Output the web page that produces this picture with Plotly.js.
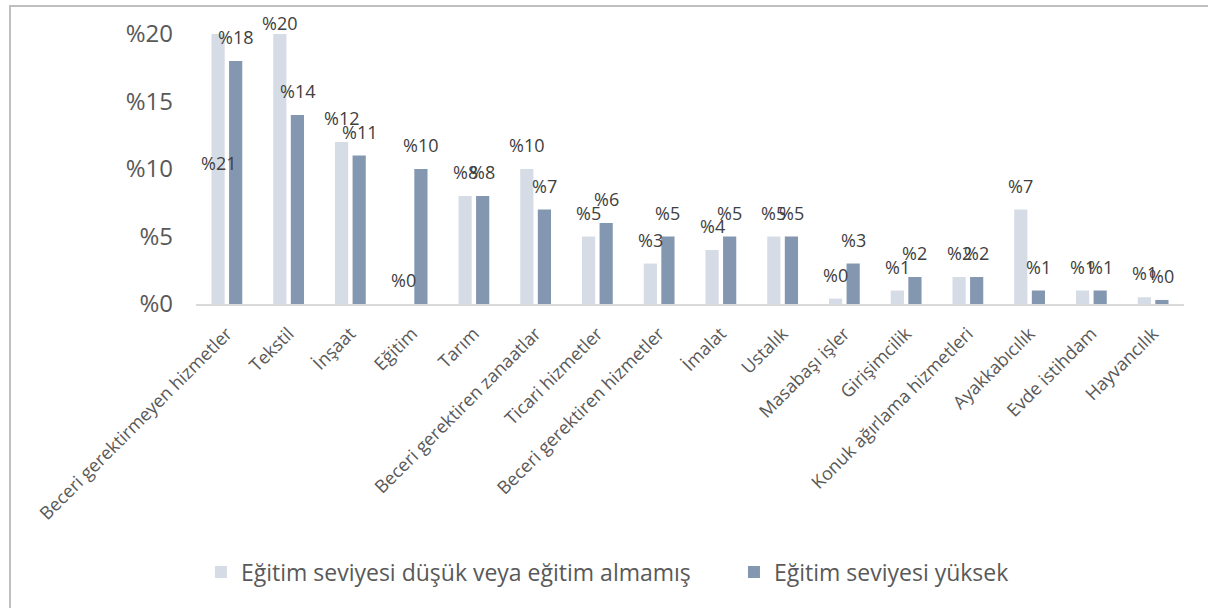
<!DOCTYPE html>
<html>
<head>
<meta charset="utf-8">
<script src="https://cdn.plot.ly/plotly-3.0.1.min.js"></script>
<style>
  html, body { margin: 0; padding: 0; background: #ffffff; overflow: hidden; }
  #wrap { position: relative; width: 1208px; height: 608px; overflow: hidden; }
  #frame { position: absolute; left: 9px; top: 5px; width: 1400px; height: 800px;
           border: 2px solid #bfbfbf; box-sizing: border-box; pointer-events: none; }
  #chart { position: absolute; left: 0; top: 0; width: 1208px; height: 608px; }
</style>
</head>
<body>
<div id="wrap">
  <div id="chart"></div>
  <div id="frame"></div>
</div>
<script>
const categories = [
  "Beceri gerektirmeyen hizmetler", "Tekstil", "İnşaat", "Eğitim", "Tarım",
  "Beceri gerektiren zanaatlar", "Ticari hizmetler", "Beceri gerektiren hizmetler",
  "İmalat", "Ustalık", "Masabaşı işler", "Girişimcilik", "Konuk ağırlama hizmetleri",
  "Ayakkabıcılık", "Evde istihdam", "Hayvancılık"
];
const seriesNames = ["Eğitim seviyesi düşük veya eğitim almamış", "Eğitim seviyesi yüksek"];
const lowEducation  = [21, 20, 12, 0, 8, 10, 5, 3, 4, 5, 0.4, 1, 2, 7, 1, 0.5];
const highEducation = [18, 14, 11, 10, 8, 7, 6, 5, 5, 5, 3, 2, 2, 1, 1, 0.3];
const yTickValues = [0, 5, 10, 15, 20];
const yTickLabels = ["%0", "%5", "%10", "%15", "%20"];

const colors = ["#d6dce5", "#8497b0"];
const FONT = "Open Sans, Roboto, sans-serif";
const yMax = 20;
const bargap = 0.43;
const slot = (1 - bargap) / 2;

function fmt(v) { return "%" + Math.round(v); }

const traces = [lowEducation, highEducation].map((vals, k) => ({
  type: "bar",
  name: seriesNames[k],
  x: categories,
  y: vals,
  legend: k === 0 ? "legend" : "legend2",
  marker: { color: colors[k], line: { width: 0 } },
  hoverinfo: "x+y"
}));

const annotations = [];
[lowEducation, highEducation].forEach((vals, k) => {
  const off = (k === 0 ? -1 : 1) * slot / 2;
  vals.forEach((v, i) => {
    let y = v, shift = 24;
    if (v > yMax) { y = yMax / 2; shift = 6; }
    else if (v >= yMax) { y = yMax; shift = 11; }
    annotations.push({
      xref: "x", yref: "y", x: i + off, y: y, yshift: shift,
      text: fmt(v), showarrow: false, xanchor: "center", yanchor: "middle",
      font: { family: FONT, size: 18, color: "#404040" }
    });
  });
});

const legendBase = {
  orientation: "h", xanchor: "left", y: -0.993, yanchor: "middle",
  font: { family: FONT, size: 23, color: "#595959" },
  bgcolor: "rgba(0,0,0,0)"
};

const layout = {
  width: 1208, height: 608,
  margin: { l: 196, r: 24, t: 34, b: 304 },
  paper_bgcolor: "rgba(0,0,0,0)",
  plot_bgcolor: "rgba(0,0,0,0)",
  barmode: "group",
  bargap: bargap,
  bargroupgap: 0.25,
  showlegend: true,
  legend: Object.assign({}, legendBase, { x: 0.005 }),
  legend2: Object.assign({}, legendBase, { x: 0.5445 }),
  xaxis: {
    type: "category",
    range: [-0.5, categories.length - 0.5],
    tickangle: -45,
    tickfont: { family: FONT, size: 18, color: "#595959" },
    showline: true, linecolor: "#d9d9d9", linewidth: 2,
    showgrid: false, zeroline: false, ticks: "",
    ticklabelstandoff: 10,
    fixedrange: true
  },
  yaxis: {
    range: [0, yMax],
    tickvals: yTickValues,
    ticktext: yTickLabels,
    tickfont: { family: FONT, size: 24, color: "#595959" },
    showline: false, showgrid: false, zeroline: false, ticks: "",
    ticklabelstandoff: 22,
    fixedrange: true
  },
  annotations: annotations,
  font: { family: FONT, color: "#595959" }
};

Plotly.newPlot("chart", traces, layout, { displayModeBar: false, staticPlot: true });
</script>
</body>
</html>
